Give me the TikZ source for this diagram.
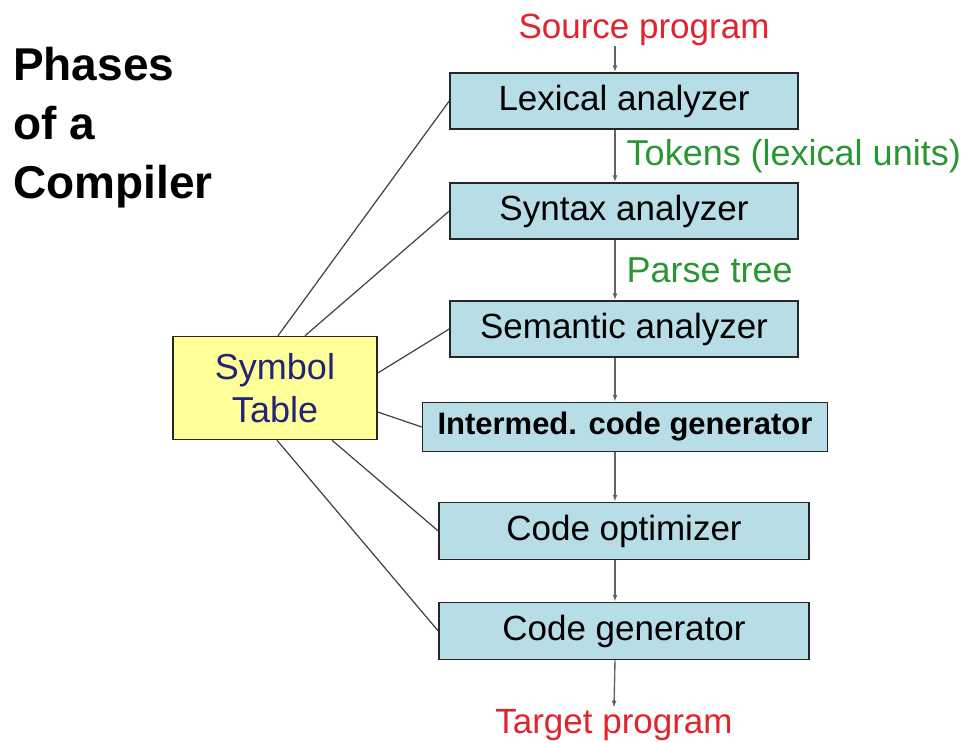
\documentclass[tikz,border=0pt]{standalone}
\usepackage{fontspec}
\setmainfont{Liberation Sans}
\usetikzlibrary{arrows.meta}
\definecolor{phasefill}{RGB}{183,221,230}
\definecolor{tablefill}{RGB}{255,255,153}
\definecolor{progred}{RGB}{225,35,45}
\definecolor{infogreen}{RGB}{40,150,50}
\definecolor{tablenavy}{RGB}{35,35,120}
\definecolor{flowgray}{RGB}{100,100,100}
\begin{document}
\begin{tikzpicture}[x=1pt, y=-1pt, >={Latex[length=7pt,width=5pt]},
    phase node/.style={draw=black!85, line width=1.5pt, fill=phasefill, inner sep=0pt, font=\fontsize{35}{42}\selectfont},
    prog label/.style={text=progred, inner sep=1pt, anchor=base, font=\fontsize{35}{42}\selectfont},
    flow label/.style={text=infogreen, anchor=west, inner sep=1pt, xshift=10pt, font=\fontsize{36}{43}\selectfont},
    flow/.style={->, flowgray, line width=1.4pt},
    link/.style={black!75, line width=1.2pt}]
    \useasboundingbox (0,0) rectangle (968,742);

    \node[anchor=north west, align=left, inner sep=0pt, font=\bfseries\fontsize{46}{59}\selectfont] at (13,47) (title) {Phases\\of a\\Compiler};

    \node[prog label] at (644,38) (src) {Source program};
    \node[phase node, minimum width=348pt, minimum height=56pt] at (624,101) (lex) {Lexical analyzer};
    \node[phase node, minimum width=348pt, minimum height=56pt] at (624,211) (syn) {Syntax analyzer};
    \node[phase node, minimum width=348pt, minimum height=56pt] at (624,329) (sem) {Semantic analyzer};
    \node[phase node, minimum width=405pt, minimum height=49pt, font=\bfseries\fontsize{31}{37}\selectfont] at (625,427) (icg) {Intermed. code generator};
    \node[phase node, minimum width=370pt, minimum height=57pt] at (624,531) (opt) {Code optimizer};
    \node[phase node, minimum width=370pt, minimum height=57pt] at (624,631) (gen) {Code generator};
    \node[prog label] at (614,733) (tgt) {Target program};

    \node[draw=black!85, line width=1.5pt, fill=tablefill, minimum width=204pt, minimum height=103pt, align=center, text=tablenavy, font=\fontsize{36}{43}\selectfont] at (275,388) (symtab) {Symbol\\Table};

    \draw[flow] ([xshift=-29pt]src.south) -- ([xshift=-9pt]lex.north);
    \draw[flow] ([xshift=-9pt]lex.south) -- node[flow label] {Tokens (lexical units)} ([xshift=-9pt]syn.north);
    \draw[flow] ([xshift=-9pt]syn.south) -- node[flow label] {Parse tree} ([xshift=-9pt]sem.north);
    \draw[flow] ([xshift=-9pt]sem.south) -- ([xshift=-10pt]icg.north);
    \draw[flow] ([xshift=-10pt]icg.south) -- ([xshift=-9pt]opt.north);
    \draw[flow] ([xshift=-9pt]opt.south) -- ([xshift=-9pt]gen.north);
    \draw[flow] ([xshift=-9pt]gen.south) -- (tgt.north);

    \draw[link] ([xshift=3pt]symtab.north) -- (lex.west);
    \draw[link] ([xshift=30pt]symtab.north) -- (syn.west);
    \draw[link] ([yshift=15pt]symtab.east) -- (sem.west);
    \draw[link] ([yshift=-24pt]symtab.east) -- (icg.west);
    \draw[link] ([xshift=57pt]symtab.south) -- (opt.west);
    \draw[link] ([xshift=2pt]symtab.south) -- (gen.west);
\end{tikzpicture}
\end{document}
